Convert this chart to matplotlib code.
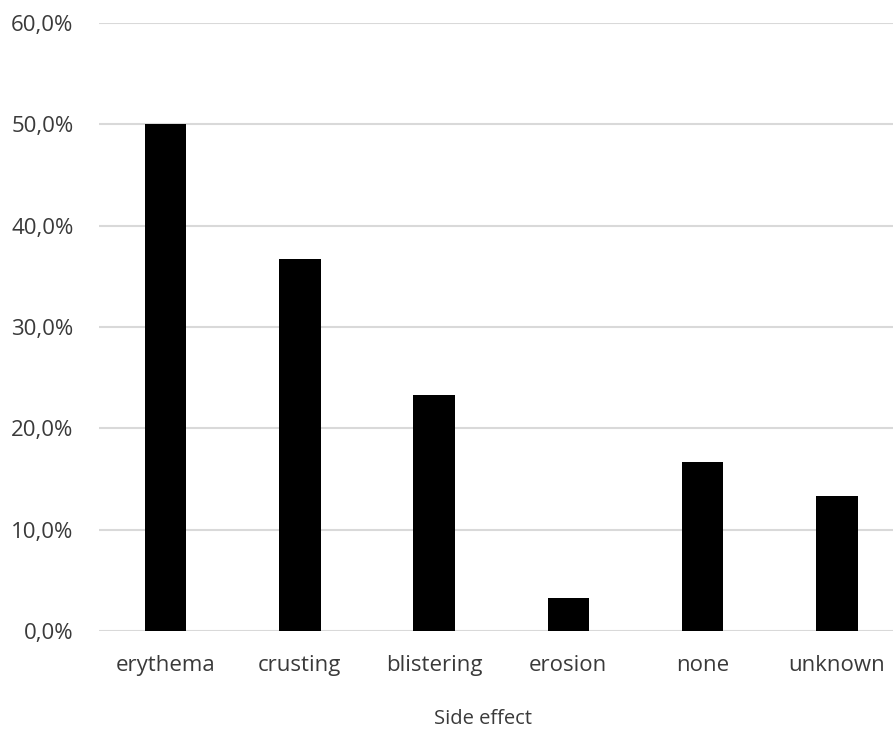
import matplotlib
matplotlib.use("Agg")
import matplotlib.pyplot as plt
from matplotlib.ticker import FuncFormatter

categories = ["erythema", "crusting", "blistering", "erosion", "none", "unknown"]
values = [50.0, 36.7, 23.3, 3.3, 16.7, 13.3]
yticks = [0, 10, 20, 30, 40, 50, 60]

plt.rcParams['font.family'] = ['Open Sans', 'DejaVu Sans']
text_color = '#3a3a3a'

fig = plt.figure(figsize=(8.93, 7.32), dpi=100)
W, H = 893, 732
left, right = 98.5, 904
bottom, top = 631, 23
ax = fig.add_axes([left / W, 1 - bottom / H, (right - left) / W, (bottom - top) / H])

x = list(range(len(categories)))
ax.bar(x, values, width=0.31, color='black', zorder=3)
ax.set_xlim(-0.5, len(categories) - 0.5)
ax.set_ylim(0, 60)
ax.set_yticks(yticks)
ax.yaxis.set_major_formatter(FuncFormatter(lambda v, p: f"{v:.1f}".replace('.', ',') + '%'))
ax.set_xticks(x)
ax.set_xticklabels(categories)
ax.grid(axis='y', color='#d9d9d9', linewidth=1.5, zorder=0)
for s in ax.spines.values():
    s.set_visible(False)
ax.tick_params(axis='both', length=0, labelsize=16, colors=text_color)
ax.tick_params(axis='y', pad=18)
ax.tick_params(axis='x', pad=17)

fig.text(483 / W, 1 - 719 / H, "Side effect", ha='center', va='center', fontsize=14.5, color=text_color)

fig.savefig("out.png", dpi=100)
